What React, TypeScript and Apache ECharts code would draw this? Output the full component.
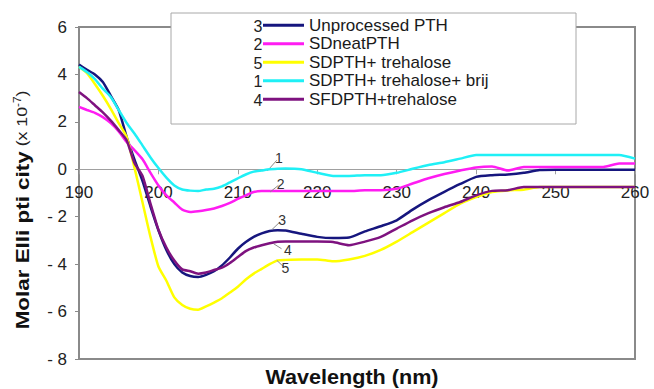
import React, { useEffect, useRef } from "react";
import * as echarts from "echarts";

const wavelengths = [
  190, 191, 192, 193, 194, 195, 196, 197, 198, 199, 200, 201, 202, 203, 204, 205, 206, 207, 208, 209,
  210, 211, 212, 213, 214, 215, 216, 218, 220, 222, 224, 226, 228, 230, 232, 234, 236, 238, 240, 242,
  244, 246, 248, 250, 252, 254, 256, 258, 260,
];

const unprocessedPTH = [
  4.42, 4.2, 4.0, 3.68, 3.1, 2.5, 1.36, 0.4, -0.5, -1.57, -2.57, -3.4, -4.0, -4.35, -4.5, -4.54, -4.45, -4.3, -4.05, -3.72,
  -3.35, -3.07, -2.85, -2.7, -2.6, -2.57, -2.58, -2.72, -2.85, -2.9, -2.88, -2.62, -2.4, -2.15, -1.7, -1.3, -0.95, -0.62, -0.32, -0.25,
  -0.22, -0.15, -0.03, -0.02, -0.02, -0.02, -0.02, -0.02, -0.02,
];

const sdNeatPTH = [
  2.63, 2.5, 2.38, 2.2, 1.95, 1.6, 1.15, 0.8, 0.42, -0.15, -0.68, -1.1, -1.4, -1.7, -1.8, -1.77, -1.72, -1.65, -1.55, -1.42,
  -1.25, -1.1, -0.96, -0.92, -0.92, -0.92, -0.92, -0.92, -0.92, -0.92, -0.92, -0.88, -0.88, -0.82, -0.6, -0.38, -0.2, -0.05, 0.08, 0.12,
  -0.05, 0.1, 0.1, 0.1, 0.1, 0.1, 0.1, 0.24, 0.24,
];

const sdTrehalose = [
  4.32, 4.05, 3.6, 3.1, 2.55, 1.95, 1.36, 0.05, -1.4, -2.85, -4.1, -4.7, -5.4, -5.72, -5.88, -5.92, -5.78, -5.62, -5.44, -5.2,
  -4.95, -4.65, -4.4, -4.2, -4.0, -3.84, -3.82, -3.8, -3.8, -3.88, -3.8, -3.65, -3.4, -3.05, -2.65, -2.25, -1.85, -1.45, -1.17, -0.96,
  -0.89, -0.86, -0.75, -0.75, -0.75, -0.75, -0.75, -0.75, -0.75,
];

const sdTrehaloseBrij = [
  4.32, 4.1, 3.8, 3.4, 3.05, 2.5, 1.95, 1.5, 1.0, 0.5, 0.05, -0.35, -0.68, -0.85, -0.9, -0.92, -0.85, -0.82, -0.72, -0.55,
  -0.38, -0.22, -0.1, -0.05, 0.0, 0.02, 0.03, 0.0, -0.15, -0.28, -0.28, -0.25, -0.25, -0.15, 0.02, 0.18, 0.3, 0.45, 0.6, 0.6,
  0.6, 0.6, 0.6, 0.6, 0.6, 0.6, 0.6, 0.6, 0.45,
];

const sfdTrehalose = [
  3.26, 3.0, 2.7, 2.4, 2.05, 1.65, 1.22, 0.25, -0.28, -1.45, -2.55, -3.3, -3.85, -4.22, -4.3, -4.4, -4.35, -4.25, -4.15, -3.95,
  -3.7, -3.45, -3.3, -3.2, -3.12, -3.06, -3.05, -3.05, -3.05, -3.07, -3.2, -3.05, -2.85, -2.5, -2.15, -1.85, -1.6, -1.38, -1.1, -0.91,
  -0.88, -0.75, -0.75, -0.75, -0.75, -0.75, -0.75, -0.75, -0.75,
];

const seriesNames = [
  "Unprocessed PTH",
  "SDneatPTH",
  "SDPTH+ trehalose",
  "SDPTH+ trehalose+ brij",
  "SFDPTH+trehalose",
];
const seriesValues = [unprocessedPTH, sdNeatPTH, sdTrehalose, sdTrehaloseBrij, sfdTrehalose];
const seriesIds = ["3", "2", "5", "1", "4"];
const seriesColors = ["#16167e", "#ff1cf2", "#ffff00", "#1ff0f6", "#7e127f"];

// callout leader lines (data coordinates): from, to
const calloutFrom = [
  [214.3, -2.54],
  [214.05, -0.96],
  [214.9, -3.84],
  [213.7, -0.07],
  [214.5, -3.14],
];
const calloutTo = [
  [215.3, -2.22],
  [215.1, -0.68],
  [215.7, -4.09],
  [214.9, 0.38],
  [215.5, -3.35],
];

const yMin = -8;
const yMax = 6;

const FONT = "'Liberation Sans', Arial, Helvetica, sans-serif";

export default function App() {
  const ref = useRef<HTMLDivElement>(null);

  useEffect(() => {
    if (!ref.current) return;
    document.body.style.margin = "0";
    const chart = echarts.init(ref.current, undefined, { renderer: "svg" });

    const gridTop = 27;
    const gridBottom = 30;
    const gridHeight = 389 - gridTop - gridBottom;
    // move the x axis up so it sits on the zero line
    const xAxisOffset = -(gridHeight * (0 - yMin)) / (yMax - yMin);

    const series = seriesNames.map((name, i) => ({
      name,
      type: "line",
      data: wavelengths.map((w, j) => [w, seriesValues[i][j]]),
      symbol: "none",
      smooth: 0.2,
      lineStyle: { color: seriesColors[i], width: 2.5 },
      itemStyle: { color: seriesColors[i] },
      z: 2 + i,
      markLine: {
        silent: true,
        symbol: ["none", "none"],
        lineStyle: { color: "#8a8a8a", width: 1, type: "solid" },
        label: {
          show: true,
          position: "end",
          distance: 3,
          formatter: seriesIds[i],
          color: "#333",
          fontSize: 14,
          fontFamily: FONT,
        },
        data: [[{ coord: calloutFrom[i] }, { coord: calloutTo[i] }]],
      },
    }));

    const rowY = [25, 43.5, 62, 80.5, 99];

    chart.setOption({
      animation: false,
      backgroundColor: "#ffffff",
      grid: {
        left: 79,
        right: 19,
        top: gridTop,
        bottom: gridBottom,
        show: true,
        borderColor: "#8a8a8a",
        borderWidth: 2,
        backgroundColor: "transparent",
      },
      xAxis: {
        type: "value",
        min: 190,
        max: 260,
        interval: 10,
        position: "bottom",
        offset: xAxisOffset,
        axisLine: { show: true, onZero: false, lineStyle: { color: "#a0a0a0", width: 1 } },
        axisTick: { show: true, length: 5, lineStyle: { color: "#a0a0a0" } },
        axisLabel: { margin: 15, color: "#222", fontSize: 17, fontFamily: FONT },
        splitLine: { show: false },
      },
      yAxis: {
        type: "value",
        min: yMin,
        max: yMax,
        interval: 2,
        axisLine: { show: true, onZero: false, lineStyle: { color: "#8a8a8a", width: 2 } },
        axisTick: { show: true, length: 4, lineStyle: { color: "#8a8a8a" } },
        axisLabel: {
          margin: 12,
          color: "#222",
          fontSize: 17,
          fontFamily: FONT,
          formatter: (v: number) => (v < 0 ? "- " + -v : String(v)),
        },
        splitLine: { show: false },
      },
      legend: {
        orient: "vertical",
        left: 263,
        top: 16,
        icon: "rect",
        itemWidth: 41,
        itemHeight: 3,
        itemGap: 0,
        padding: 0,
        textStyle: { color: "#1a1a1a", fontSize: 17, lineHeight: 18.5, fontFamily: FONT },
        data: seriesNames,
      },
      graphic: [
        {
          type: "rect",
          z: 3,
          shape: { x: 171, y: 13, width: 405, height: 111 },
          style: { fill: "#ffffff", stroke: "#a8a8a8", lineWidth: 1 },
        },
        ...seriesIds.map((id, i) => ({
          type: "text",
          z: 5,
          x: 258,
          y: rowY[i] + 1,
          style: {
            text: id,
            fill: "#222",
            font: `16px ${FONT}`,
            align: "center",
            verticalAlign: "middle",
          },
        })),
        {
          type: "text",
          z: 5,
          x: 352,
          y: 377,
          scaleX: 1.08,
          style: {
            text: "Wavelength (nm)",
            fill: "#111",
            font: `bold 20px ${FONT}`,
            align: "center",
            verticalAlign: "middle",
          },
        },
        {
          type: "text",
          z: 5,
          x: 22,
          y: 210,
          rotation: Math.PI / 2,
          scaleX: 1.18,
          style: {
            text: "{b|Molar Elli pti city}{s| (x 10}{sup|-7}{s|)}",
            align: "center",
            verticalAlign: "middle",
            rich: {
              b: { font: `bold 19px ${FONT}`, fill: "#111" },
              s: { font: `15px ${FONT}`, fill: "#222" },
              sup: { font: `10px ${FONT}`, fill: "#222", verticalAlign: "top", padding: [0, 0, 8, 0] },
            },
          },
        },
      ],
      series,
    });

    return () => chart.dispose();
  }, []);

  return <div ref={ref} style={{ width: 654, height: 389 }} />;
}
